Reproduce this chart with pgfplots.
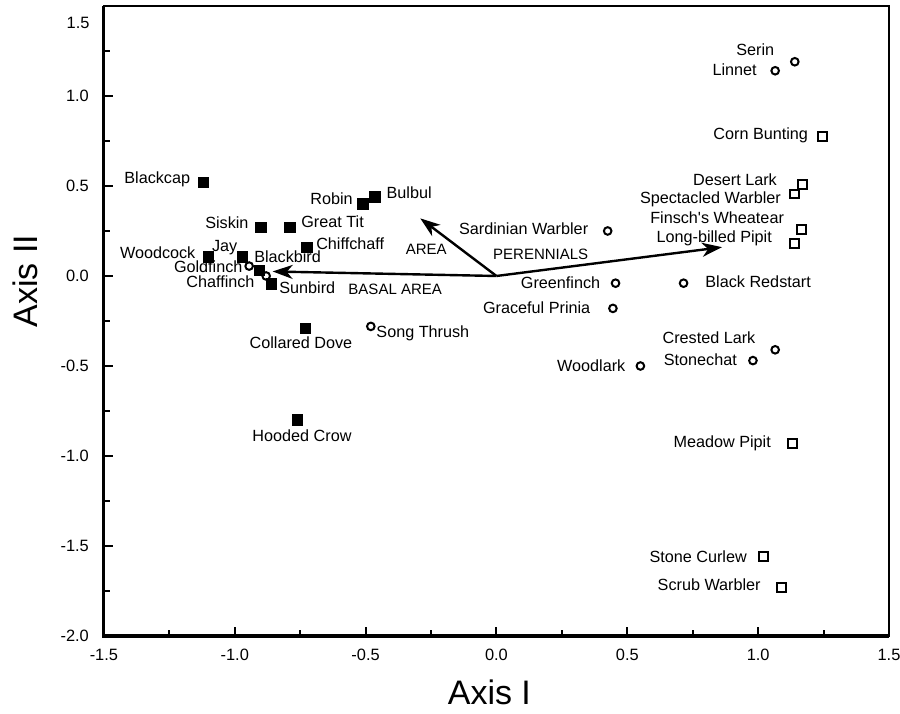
\documentclass[border=0pt]{standalone}
\usepackage{pgfplots}
\pgfplotsset{compat=1.18}
\usepackage{fontspec}
\setmainfont{Liberation Sans}
\usetikzlibrary{arrows.meta}
\tikzset{lab/.style={font=\fontsize{8.1}{9}\selectfont, inner sep=0pt},
         alab/.style={font=\fontsize{7.5}{9}\selectfont, inner sep=0pt}}
\begin{document}
\begin{tikzpicture}
\begin{axis}[
  scale only axis, width=392.5pt, height=315pt,
  xmin=-1.5, xmax=1.5, ymin=-2, ymax=1.5,
  clip=false,
  axis line style={line width=1pt},
  xtick={-1.5,-1,...,1.5}, ytick={-2,-1.5,...,1.5},
  minor xtick={-1.25,-0.75,-0.25,0.25,0.75,1.25},
  minor ytick={-1.75,-1.25,-0.75,-0.25,0.25,0.75,1.25},
  tick align=inside, tick pos=left,
  major tick length=4.5pt, minor tick length=3pt,
  every tick/.style={line width=1pt, black},
  xticklabels={-1.5,-1.0,-0.5,0.0,0.5,1.0,1.5},
  yticklabels={-2.0,-1.5,-1.0,-0.5,0.0,0.5,1.0,{}},
  ticklabel style={font=\fontsize{8.2}{9}\selectfont},
  xticklabel style={yshift=-3pt},
  yticklabel style={xshift=-4pt},
]
% frame emphasis (left and bottom spines)
\draw[line width=1.6pt] (rel axis cs:0,1) -- (rel axis cs:0,0) -- (rel axis cs:1,0);
\node[anchor=east, font=\fontsize{8.2}{9}\selectfont, inner sep=0pt] at ([xshift=-7pt,yshift=-8.3pt]axis cs:-1.5,1.5) {1.5};

% environmental vectors
\addplot[line width=1.2pt, -{Stealth[length=10pt,width=7pt,inset=3pt]}] coordinates {(0,0) (-0.855,0.025)};
\addplot[line width=1.2pt, -{Stealth[length=10pt,width=7pt,inset=3pt]}] coordinates {(0,0) (-0.291,0.32)};
\addplot[line width=1.2pt, -{Stealth[length=10pt,width=7pt,inset=3pt]}] coordinates {(0,0) (0.862,0.16)};

% filled squares
\addplot[only marks, mark=square*, mark size=2.6pt, black] coordinates {
(-1.12,0.52) (-0.51,0.40) (-0.465,0.44) (-0.90,0.27) (-0.79,0.27)
(-0.725,0.16) (-1.10,0.105) (-0.97,0.105) (-0.905,0.03) (-0.86,-0.045)
(-0.73,-0.29) (-0.76,-0.80)};
% open circles
\addplot[only marks, mark=o, mark size=1.9pt, mark options={line width=1pt}, black] coordinates {
(-0.945,0.055) (-0.88,0.0) (-0.48,-0.28) (1.14,1.19) (1.065,1.14)
(0.425,0.25) (0.455,-0.04) (0.445,-0.18) (0.715,-0.04) (1.065,-0.41)
(0.98,-0.47) (0.55,-0.50)};
% open squares
\addplot[only marks, mark=square, mark size=2.2pt, mark options={line width=1pt}, black] coordinates {
(1.245,0.775) (1.17,0.51) (1.14,0.455) (1.165,0.26) (1.14,0.18)
(1.13,-0.93) (1.02,-1.56) (1.09,-1.73)};

% labels
\node[lab,anchor=east] at (axis cs:-1.169,0.537) {Blackcap};
\node[lab,anchor=east] at (axis cs:-0.548,0.432) {Robin};
\node[lab,anchor=west] at (axis cs:-0.421,0.46) {Bulbul};
\node[lab,anchor=east] at (axis cs:-0.946,0.294) {Siskin};
\node[lab,anchor=west] at (axis cs:-0.747,0.299) {Great Tit};
\node[lab,anchor=west] at (axis cs:-0.69,0.177) {Chiffchaff};
\node[lab,anchor=east] at (axis cs:-1.149,0.127) {Woodcock};
\node[lab,anchor=east] at (axis cs:-0.989,0.155) {Jay};
\node[lab,anchor=west] at (axis cs:-0.927,0.105) {Blackbird};
\node[lab,anchor=east] at (axis cs:-0.969,0.05) {Goldfinch};
\node[lab,anchor=east] at (axis cs:-0.923,-0.033) {Chaffinch};
\node[lab,anchor=west] at (axis cs:-0.831,-0.066) {Sunbird};
\node[lab] at (axis cs:-0.747,-0.371) {Collared Dove};
\node[lab] at (axis cs:-0.743,-0.886) {Hooded Crow};
\node[lab,anchor=west] at (axis cs:-0.46,-0.316) {Song Thrush};
\node[alab] at (axis cs:-0.387,-0.072) {BASAL AREA};
\node[alab] at (axis cs:-0.268,0.15) {AREA};
\node[alab] at (axis cs:0.169,0.122) {PERENNIALS};
\node[lab] at (axis cs:0.989,1.258) {Serin};
\node[lab,anchor=east] at (axis cs:0.996,1.147) {Linnet};
\node[lab,anchor=east] at (axis cs:1.192,0.781) {Corn Bunting};
\node[lab,anchor=east] at (axis cs:1.073,0.532) {Desert Lark};
\node[lab,anchor=east] at (axis cs:1.088,0.427) {Spectacled Warbler};
\node[lab,anchor=east] at (axis cs:1.100,0.321) {Finsch\textquotesingle s Wheatear};
\node[lab,anchor=east] at (axis cs:1.054,0.211) {Long-billed Pipit};
\node[lab,anchor=east] at (axis cs:0.352,0.26) {Sardinian Warbler};
\node[lab,anchor=east] at (axis cs:0.398,-0.039) {Greenfinch};
\node[lab,anchor=west] at (axis cs:0.797,-0.033) {Black Redstart};
\node[lab,anchor=east] at (axis cs:0.36,-0.177) {Graceful Prinia};
\node[lab] at (axis cs:0.812,-0.343) {Crested Lark};
\node[lab,anchor=east] at (axis cs:0.92,-0.465) {Stonechat};
\node[lab,anchor=east] at (axis cs:0.494,-0.499) {Woodlark};
\node[lab,anchor=east] at (axis cs:1.05,-0.931) {Meadow Pipit};
\node[lab,anchor=east] at (axis cs:0.958,-1.557) {Stone Curlew};
\node[lab,anchor=east] at (axis cs:1.011,-1.717) {Scrub Warbler};

% axis titles
\node[font=\fontsize{17}{20}\selectfont] at ([yshift=-28pt]axis cs:-0.027,-2) {Axis I};
\node[font=\fontsize{17}{20}\selectfont, rotate=90] at ([xshift=-39.5pt]axis cs:-1.5,-0.028) {Axis II};

\coordinate (bbl) at (axis cs:-1.897,-2.428);
\coordinate (btr) at (axis cs:1.542,1.533);
\end{axis}
\pgfresetboundingbox
\useasboundingbox (bbl) rectangle (btr);
\end{tikzpicture}
\end{document}
